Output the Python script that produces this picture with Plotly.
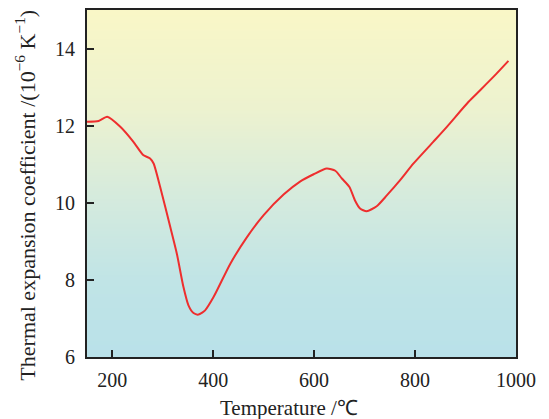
import numpy as np
import plotly.graph_objects as go

# Data
temperature = [150, 173, 190, 216, 242, 262, 275, 282, 295, 315, 328, 341, 351, 361,
               371, 384, 401, 434, 467, 500, 540, 572, 599, 625, 642, 655, 670, 681,
               691, 704, 724, 744, 770, 797, 836, 863, 906, 929, 960, 985]
cte = [12.10, 12.12, 12.23, 11.97, 11.58, 11.23, 11.15, 11.02, 10.41, 9.37, 8.68, 7.82,
       7.34, 7.14, 7.10, 7.21, 7.56, 8.42, 9.11, 9.68, 10.22, 10.55, 10.74, 10.89, 10.83,
       10.63, 10.41, 10.06, 9.85, 9.78, 9.91, 10.19, 10.58, 11.02, 11.58, 11.97, 12.62,
       12.92, 13.33, 13.68]

x_ticks = [200, 400, 600, 800, 1000]
y_ticks = [6, 8, 10, 12, 14]
x_range = [150, 1000]
y_range = [6, 15]
x_title = "Temperature /℃"
y_title = "Thermal expansion coefficient /(10<sup>−6</sup> K<sup>−1</sup>)"

# background gradient (decoration)
grad_y = np.linspace(y_range[0], y_range[1], 60)
grad_z = [[v, v] for v in grad_y]

fig = go.Figure()
fig.add_trace(go.Heatmap(
    x=x_range, y=grad_y, z=grad_z, zsmooth="best", showscale=False,
    hoverinfo="skip", zmin=6, zmax=15,
    colorscale=[[0.0, "#B9E1E9"], [0.22, "#C0E4E6"], [0.44, "#D3EADE"],
                [0.72, "#EDF2CF"], [1.0, "#F9F7C7"]],
))
fig.add_trace(go.Scatter(
    x=temperature, y=cte, mode="lines",
    line=dict(color="#EE2E2E", width=2, shape="spline", smoothing=0.6),
    hoverinfo="skip", showlegend=False,
))

font = "Liberation Serif"
fig.update_layout(
    width=549, height=419,
    margin=dict(l=87, r=33, t=10, b=62, autoexpand=False),
    paper_bgcolor="white", plot_bgcolor="white",
    showlegend=False,
    font=dict(family=font, size=20, color="#222"),
    annotations=[
        dict(text=x_title, xref="paper", yref="paper", x=0.47, y=0,
             yshift=-51, xanchor="center", yanchor="middle", showarrow=False,
             font=dict(family=font, size=21, color="#222")),
        dict(text=y_title, xref="paper", yref="paper", x=0, y=0.465,
             xshift=-62, xanchor="center", yanchor="middle", textangle=-90,
             showarrow=False, font=dict(family=font, size=22, color="#222")),
    ],
)
fig.update_xaxes(
    range=x_range, tickvals=x_ticks, ticks="inside", ticklen=7, tickwidth=2,
    tickcolor="#222", showline=True, linewidth=2, linecolor="#222", mirror=True,
    showgrid=False, zeroline=False, automargin=False, ticklabelstandoff=4,
)
fig.update_yaxes(
    range=y_range, tickvals=y_ticks, ticks="inside", ticklen=7, tickwidth=2,
    tickcolor="#222", showline=True, linewidth=2, linecolor="#222", mirror=True,
    showgrid=False, zeroline=False, automargin=False, ticklabelstandoff=6,
)

fig.write_html("out.html", config={"displayModeBar": False},
               post_script="document.body.style.margin='0px';document.body.style.padding='0px';")
